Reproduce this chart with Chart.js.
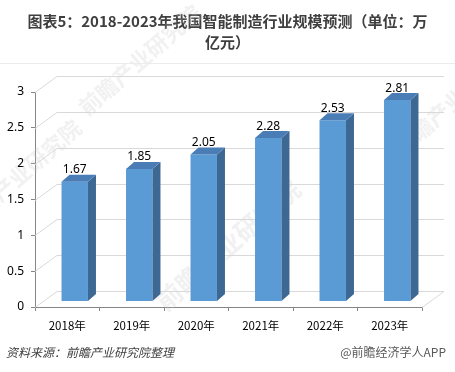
<!DOCTYPE html>
<html>
<head>
<meta charset="utf-8">
<script src="https://cdn.jsdelivr.net/npm/chart.js@4/dist/chart.umd.min.js"></script>
<style>
  html, body { margin: 0; padding: 0; background: #fff; }
  #wrap { width: 455px; height: 372px; }
</style>
</head>
<body>
<div id="wrap"><canvas id="myChart" width="455" height="372"></canvas></div>
<script>
var years = ["2018年", "2019年", "2020年", "2021年", "2022年", "2023年"];
var values = [1.67, 1.85, 2.05, 2.28, 2.53, 2.81];
var titleLines = ["图表5：2018-2023年我国智能制造行业规模预测（单位：万", "亿元）"];
var sourceText = "资料来源：前瞻产业研究院整理";
var brandText = "@前瞻经济学人APP";
var markText = "前瞻产业研究院";

// 3d look: front face shift, bar depth, wall depth
var shift = { x: 7.5, y: -5.5 };
var depth = { x: 8, y: -7 };
var wall = { x: 22, y: -16 };

function watermark(c, x, y, size) {
    c.save();
    c.translate(x, y);
    c.rotate(-0.72);
    c.fillStyle = "rgba(200,200,200,0.25)";
    c.font = "bold " + size + "px 'Noto Sans CJK SC', sans-serif";
    c.textAlign = "center";
    c.textBaseline = "middle";
    c.fillText(markText, 0, 0);
    c.restore();
}

var bars3d = {
    id: "bars3d",
    beforeDatasetsDraw: function (chart) {
        var c = chart.ctx, a = chart.chartArea, ys = chart.scales.y;
        watermark(c, 228, 245, 26);
        watermark(c, 140, 60, 22);
        watermark(c, 455, 100, 22);
        watermark(c, 20, 175, 22);
        c.save();
        c.strokeStyle = "#d9d9d9";
        c.lineWidth = 1;
        ys.ticks.forEach(function (t) {
            var yp = Math.round(ys.getPixelForValue(t.value)) + 0.5;
            c.beginPath();
            c.moveTo(a.left, yp);
            c.lineTo(a.left + wall.x, yp + wall.y);
            c.lineTo(a.right + wall.x, yp + wall.y);
            if (t.value === 0) {
                c.moveTo(a.right, yp);
                c.lineTo(a.right + wall.x, yp + wall.y);
            }
            c.stroke();
        });
        c.restore();
        c.save();
        c.translate(shift.x, shift.y);
    },
    afterDatasetsDraw: function (chart) {
        var c = chart.ctx;
        c.restore();
        var meta = chart.getDatasetMeta(0);
        c.save();
        meta.data.forEach(function (bar, i) {
            var l = bar.x - bar.width / 2 + shift.x;
            var r = bar.x + bar.width / 2 + shift.x;
            var top = bar.y + shift.y;
            var base = bar.base + shift.y;
            // side
            c.fillStyle = "#3d6894";
            c.beginPath();
            c.moveTo(r, top);
            c.lineTo(r + depth.x, top + depth.y);
            c.lineTo(r + depth.x, base + depth.y);
            c.lineTo(r, base);
            c.closePath();
            c.fill();
            // top
            c.fillStyle = "#4a7db6";
            c.beginPath();
            c.moveTo(l, top);
            c.lineTo(l + depth.x, top + depth.y);
            c.lineTo(r + depth.x, top + depth.y);
            c.lineTo(r, top);
            c.closePath();
            c.fill();
            // value label
            c.fillStyle = "#000";
            c.font = "12px 'Noto Sans', sans-serif";
            c.textAlign = "center";
            c.textBaseline = "middle";
            c.fillText(values[i].toFixed(2), (l + r) / 2, bar.y - 17.5);
        });
        c.restore();
    },
    afterDraw: function (chart) {
        var c = chart.ctx;
        c.save();
        c.strokeStyle = "#ececec";
        c.beginPath();
        c.moveTo(0, 63.5);
        c.lineTo(455, 63.5);
        c.stroke();
        c.textBaseline = "middle";
        c.fillStyle = "#404040";
        c.font = "italic 12px 'Noto Sans CJK SC', sans-serif";
        c.textAlign = "left";
        c.fillText(sourceText, 6, 352);
        c.fillStyle = "#595959";
        c.font = "12px 'Noto Sans CJK SC', sans-serif";
        c.textAlign = "right";
        c.fillText(brandText, 446, 352);
        c.restore();
    }
};

var ctx = document.getElementById("myChart");
var myBarChart = new Chart(ctx, {
    type: "bar",
    data: {
        labels: years,
        datasets: [{
            data: values,
            backgroundColor: "#5b9bd5",
            borderWidth: 0,
            categoryPercentage: 1,
            barPercentage: 0.41,
            clip: false
        }]
    },
    options: {
        responsive: false,
        animation: false,
        layout: { padding: 0 },
        plugins: {
            legend: { display: false },
            tooltip: { enabled: false },
            title: {
                display: true,
                text: titleLines,
                color: "#3f3f3f",
                font: { family: "'Noto Sans CJK SC', sans-serif", size: 15, weight: "bold", lineHeight: 1.4 },
                padding: { top: 11, bottom: 39 }
            }
        },
        scales: {
            x: {
                grid: { display: true, drawOnChartArea: false, drawTicks: true, tickLength: 4, color: "#868686", offset: true },
                border: { display: true, color: "#868686" },
                ticks: { color: "#000", padding: 8, font: { family: "'Noto Sans CJK SC', sans-serif", size: 11.5 } },
                afterFit: function (s) { s.height = 65; }
            },
            y: {
                min: 0,
                max: 3,
                grid: { drawOnChartArea: false, drawTicks: true, tickLength: 4, color: "#868686" },
                border: { display: true, color: "#868686" },
                ticks: {
                    stepSize: 0.5, color: "#000", padding: 7,
                    font: { family: "'Noto Sans', sans-serif", size: 12 },
                    callback: function (v) { return String(Math.round(v * 10) / 10); }
                },
                afterFit: function (s) { s.width = 35; }
            },
            // empty right axis, only keeps room for the 3d wall
            yRight: {
                position: "right",
                display: true,
                grid: { display: false },
                border: { display: false },
                ticks: { display: false },
                afterFit: function (s) { s.width = 33; }
            }
        }
    },
    plugins: [bars3d]
});
</script>
</body>
</html>
